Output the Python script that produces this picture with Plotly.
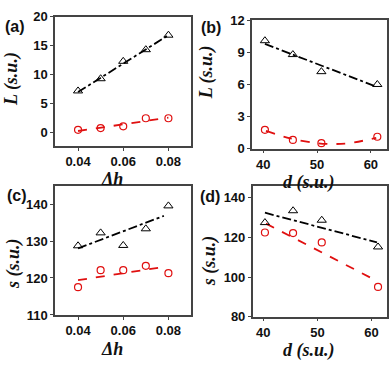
import plotly.graph_objects as go

# ---- data ----
dh = [0.04, 0.05, 0.06, 0.07, 0.08]
d_su = [40.3, 45.5, 50.8, 61.2]

# (a) L vs dh
a_tri = [7.2, 9.3, 12.3, 14.3, 16.8]
a_circ = [0.5, 0.8, 1.1, 2.5, 2.5]
a_fit_x = [0.04, 0.08]
a_tri_fit = [7.0, 16.8]
a_circ_fit = [0.3, 2.6]

# (b) L vs d
b_tri = [10.1, 8.8, 7.2, 6.0]
b_circ = [1.75, 0.8, 0.5, 1.1]
b_tri_fit_x = [40.3, 61.0]
b_tri_fit = [9.8, 5.8]
b_circ_fit_x = [40.5, 45.0, 50.0, 53.0, 56.0, 61.0]
b_circ_fit = [1.65, 0.95, 0.5, 0.42, 0.5, 1.0]

# (c) s vs dh
c_tri = [128.7, 132.2, 128.8, 133.3, 139.5]
c_circ = [117.5, 122.1, 122.1, 123.3, 121.3]
c_tri_fit_x = [0.04, 0.078]
c_tri_fit = [128.0, 136.8]
c_circ_fit_x = [0.04, 0.077]
c_circ_fit = [119.4, 122.9]

# (d) s vs d
d_tri = [127.5, 133.5, 128.7, 115.2]
d_circ = [122.5, 122.2, 117.5, 95.0]
d_tri_fit_x = [40.3, 61.0]
d_tri_fit = [132.5, 117.5]
d_circ_fit_x = [40.5, 61.0]
d_circ_fit = [127.0, 98.0]

RED = '#e01010'
BLK = '#000000'
W, H = 392, 369

panels = [
    # (xs, tri, circ, tri fit x/y, circ fit x/y, spline?)
    (dh, a_tri, a_circ, a_fit_x, a_tri_fit, a_fit_x, a_circ_fit, False),
    (d_su, b_tri, b_circ, b_tri_fit_x, b_tri_fit, b_circ_fit_x, b_circ_fit, True),
    (dh, c_tri, c_circ, c_tri_fit_x, c_tri_fit, c_circ_fit_x, c_circ_fit, False),
    (d_su, d_tri, d_circ, d_tri_fit_x, d_tri_fit, d_circ_fit_x, d_circ_fit, False),
]

fig = go.Figure()
for i, (xs, tri, circ, tfx, tfy, cfx, cfy, spl) in enumerate(panels):
    ax = '' if i == 0 else str(i + 1)
    xa, ya = 'x' + ax, 'y' + ax
    fig.add_trace(go.Scatter(x=tfx, y=tfy, mode='lines', xaxis=xa, yaxis=ya,
                             line=dict(color=BLK, width=1.8, dash='dashdot')))
    fig.add_trace(go.Scatter(x=cfx, y=cfy, mode='lines', xaxis=xa, yaxis=ya,
                             line=dict(color=RED, width=1.8, dash='dash',
                                       shape='spline' if spl else 'linear')))
    fig.add_trace(go.Scatter(x=xs, y=tri, mode='markers', xaxis=xa, yaxis=ya,
                             marker=dict(symbol='triangle-up-open', size=8,
                                         color=BLK, line=dict(width=1))))
    fig.add_trace(go.Scatter(x=xs, y=circ, mode='markers', xaxis=xa, yaxis=ya,
                             marker=dict(symbol='circle-open', size=7,
                                         color=RED, line=dict(width=1.2))))

tick_font = dict(family='Liberation Sans, Arial', size=13, color='#111', weight='bold')
title_font = dict(family='Liberation Serif, Times New Roman', size=18, color='#111',
                  weight='bold', style='italic')


def px_dom(a, b, n):
    return [a / n, b / n]


def axis(domain, rng, dtick, tickvals=None, anchor=None):
    ax = dict(domain=domain, range=rng, showgrid=False, zeroline=False,
              showline=True, mirror=True, linecolor='#444', linewidth=1.5,
              ticks='outside', ticklen=3, tickwidth=1.3, tickcolor='#444',
              tickfont=tick_font, anchor=anchor)
    if tickvals is not None:
        ax['tickvals'] = tickvals
    else:
        ax['dtick'] = dtick
    return ax


def ydom(top, bot):
    return [1 - bot / H, 1 - top / H]


fig.update_layout(
    width=W, height=H, margin=dict(l=0, r=0, t=0, b=0),
    paper_bgcolor='white', plot_bgcolor='white', showlegend=False,
    xaxis=axis(px_dom(55, 191, W), [0.0298, 0.09], None, [0.04, 0.06, 0.08], 'y'),
    yaxis=axis(ydom(10, 145), [-2.3, 20], 5, None, 'x'),
    xaxis2=axis(px_dom(252, 387, W), [37.9, 63.0], 10, None, 'y2'),
    yaxis2=axis(ydom(14, 147.5), [0, 12], 3, None, 'x2'),
    xaxis3=axis(px_dom(55, 191, W), [0.0298, 0.09], None, [0.04, 0.06, 0.08], 'y3'),
    yaxis3=axis(ydom(186.5, 321), [110, 144.9], 10, None, 'x3'),
    xaxis4=axis(px_dom(252.7, 386.7, W), [38.04, 62.8], 10, None, 'y4'),
    yaxis4=axis(ydom(187, 322.7), [80, 145.8], 20, None, 'x4'),
)


def note(txt, x, y, font, angle=0, xanchor='center'):
    fig.add_annotation(text=txt, x=x / W, y=1 - y / H, xref='paper', yref='paper',
                       xanchor=xanchor, yanchor='middle', showarrow=False,
                       textangle=angle, font=font)


# axis titles
for txt, x, y in [('Δh', 112, 179), ('d (s.u.)', 309, 183),
                  ('Δh', 112, 356), ('d (s.u.)', 309, 358)]:
    note(txt, x, y, title_font)
for txt, x, y in [('L (s.u.)', 12, 75), ('L (s.u.)', 206, 68),
                  ('s (s.u.)', 13, 268), ('s (s.u.)', 209, 265)]:
    note(txt, x, y, title_font, angle=-90)

# panel labels
label_font = dict(family='Liberation Sans, Arial', size=16, color='#111', weight='bold')
for txt, x, y in [('(a)', 3, 20), ('(b)', 199, 21), ('(c)', 5, 197), ('(d)', 198, 198)]:
    note(txt, x, y, label_font, xanchor='left')

fig.write_html("out.html", config={'displayModeBar': False},
               post_script="document.body.style.margin='0';"
                           "document.body.style.overflow='hidden';")
